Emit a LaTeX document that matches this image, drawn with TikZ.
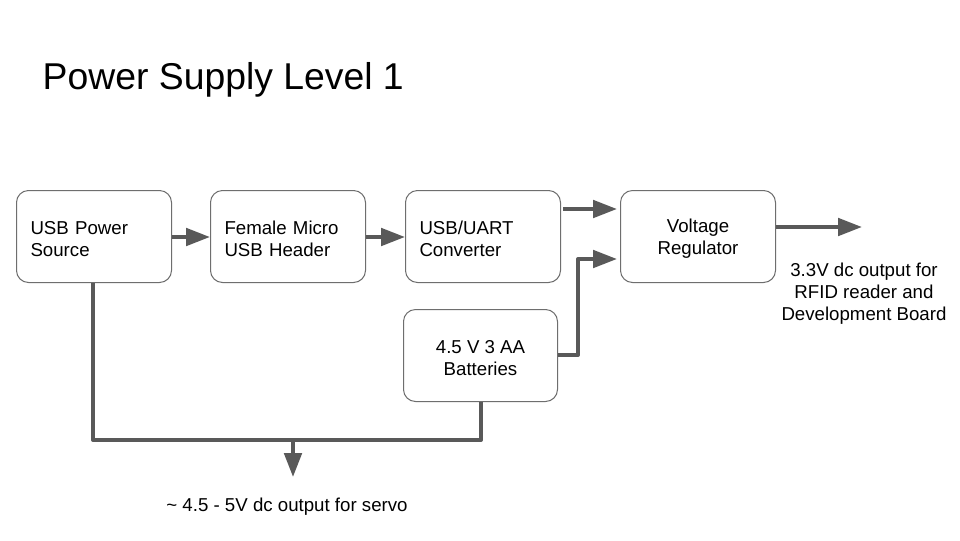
\documentclass[tikz,border=0pt]{standalone}
\usepackage{fontspec}
\setmainfont{Liberation Sans}
\usetikzlibrary{arrows.meta,calc}
\definecolor{arrowgray}{HTML}{595959}
\definecolor{boxgray}{HTML}{6E6E6E}
\newcommand{\boxstrut}{\rule{0pt}{13.2pt}}
\begin{document}
\begin{tikzpicture}[x=0.75pt,y=-0.75pt,
  every node/.style={font=\fontsize{14}{16.5}\selectfont, text=black},
  box/.style={draw=boxgray, line width=0.75pt, rounded corners=9pt, fill=white,
    minimum width=116.25pt, minimum height=69pt, anchor=north west},
  lbox/.style={box, align=left, text width=95.25pt, inner xsep=10.5pt},
  cbox/.style={box, align=center},
  conn/.style={draw=arrowgray, line width=3pt, line join=round,
    -{Triangle[length=18pt,width=13pt]}},
  wire/.style={draw=arrowgray, line width=3pt, line join=round}]
\useasboundingbox (0,0) rectangle (960,540);
\fill[white] (0,0) rectangle (960,540);

\node[anchor=base west, font=\fontsize{28}{32}\selectfont] (title) at (38,89) {Power Supply Level 1};

\node[lbox] (src) at (16,190) {\boxstrut USB Power\\Source};
\node[lbox] (hdr) at (210,190) {\boxstrut Female Micro\\USB Header};
\node[lbox] (uart) at (405,190) {\boxstrut USB/UART\\Converter};
\node[cbox] (vr) at (620,190) {\boxstrut Voltage\\Regulator};
\node[cbox, minimum width=115.5pt] (bat) at (403,309) {\boxstrut 4.5 V 3 AA\\Batteries};

\node[align=center] (out) at (864,294) {3.3V dc output for\\RFID reader and\\Development Board};
\node[anchor=base] (servo) at (287,511) {\textasciitilde{} 4.5 - 5V dc output for servo};

\coordinate (outtip) at (862,227);
\coordinate (u1) at (563,209);
\coordinate (u2) at (617,209);
\coordinate (b1) at (578,259);
\coordinate (b2) at (617,259);
\coordinate (junc) at (293,440);
\coordinate (servotip) at (293,477);
\coordinate (busL) at (93,440);
\coordinate (busR) at (481,440);

\draw[conn] (src.east |- 0,237) -- (hdr.west |- 0,237);
\draw[conn] (hdr.east |- 0,237) -- (uart.west |- 0,237);
\draw[conn] (u1) -- (u2);
\draw[conn] (bat.east |- 0,355) -| (b1) -- (b2);
\draw[conn] (vr.east |- outtip) -- (outtip);
\draw[wire] (src.south -| busL) -- (busL) -- (busR) -- (bat.south -| busR);
\draw[conn] (junc) -- (servotip);
\end{tikzpicture}
\end{document}
